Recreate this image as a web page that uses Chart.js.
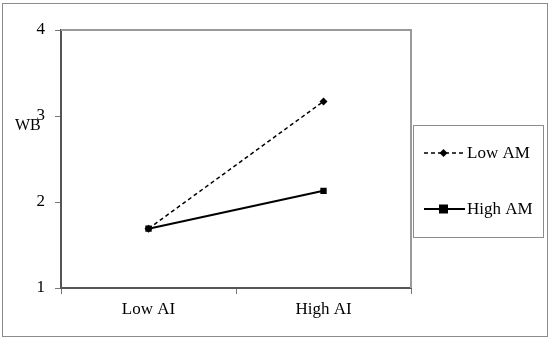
<!DOCTYPE html>
<html>
<head>
<meta charset="utf-8">
<script src="https://cdn.jsdelivr.net/npm/chart.js@4/dist/chart.umd.min.js"></script>
<style>
  html, body { margin: 0; padding: 0; background: #fff; }
  #wrap { width: 550px; height: 341px; }
</style>
</head>
<body>
<div id="wrap"><canvas id="chart" width="550" height="341"></canvas></div>
<script>
const categories = ['Low AI', 'High AI'];
const lowAM = [1.69, 3.17];
const highAM = [1.69, 2.13];
const seriesNames = ['Low AM', 'High AM'];
const yTicks = [1, 2, 3, 4];

const serif = "'Liberation Serif', 'Times New Roman', serif";

// frame, y title and legend box are drawn by hand
const decor = {
  id: 'decor',
  beforeDraw(chart) {
    const c = chart.ctx;
    c.save();
    c.fillStyle = '#fff';
    c.fillRect(0, 0, chart.width, chart.height);
    c.strokeStyle = '#8c8c8c';
    c.lineWidth = 1;
    c.strokeRect(2.5, 3.5, 545, 333);
    c.restore();
  },
  afterDraw(chart) {
    const c = chart.ctx;
    const a = chart.chartArea;
    c.save();
    // top and right frame
    c.strokeStyle = '#9a9a9a';
    c.lineWidth = 2;
    c.beginPath();
    c.moveTo(a.left, a.top);
    c.lineTo(a.right, a.top);
    c.lineTo(a.right, a.bottom);
    c.stroke();

    // y title
    c.fillStyle = '#000';
    c.font = '16px ' + serif;
    c.textBaseline = 'alphabetic';
    c.textAlign = 'left';
    c.fillText('WB', 15, 130);

    // legend box
    c.strokeStyle = '#8c8c8c';
    c.lineWidth = 1;
    c.strokeRect(413.5, 125.5, 130, 112);
    const rows = [153, 209];
    chart.data.datasets.forEach((ds, i) => {
      const y = rows[i];
      c.strokeStyle = ds.borderColor;
      c.lineWidth = ds.borderWidth;
      c.setLineDash(ds.borderDash || []);
      c.beginPath();
      c.moveTo(424, y);
      c.lineTo(465, y);
      c.stroke();
      c.setLineDash([]);
      c.fillStyle = '#000';
      if (ds.pointStyle === 'rect') {
        c.fillRect(439, y - 4.5, 9, 9);
      } else {
        c.beginPath();
        c.moveTo(443.5, y - 4);
        c.lineTo(447.5, y);
        c.lineTo(443.5, y + 4);
        c.lineTo(439.5, y);
        c.closePath();
        c.fill();
      }
      c.font = '17px ' + serif;
      c.textBaseline = 'middle';
      c.fillText(ds.label, 467, y + 1);
    });
    c.restore();
  }
};

new Chart(document.getElementById('chart'), {
  type: 'line',
  data: {
    labels: categories,
    datasets: [
      {
        label: seriesNames[0],
        data: lowAM,
        borderColor: '#000',
        backgroundColor: '#000',
        borderWidth: 1.5,
        borderDash: [4, 3],
        pointStyle: 'rectRot',
        pointRadius: 4,
        pointBorderWidth: 0,
        order: 2
      },
      {
        label: seriesNames[1],
        data: highAM,
        borderColor: '#000',
        backgroundColor: '#000',
        borderWidth: 2,
        pointStyle: 'rect',
        pointRadius: 4.5,
        pointBorderWidth: 0,
        order: 1
      }
    ]
  },
  options: {
    responsive: false,
    animation: false,
    layout: { padding: { left: 0, top: 30, right: 139, bottom: 0 } },
    plugins: {
      legend: { display: false },
      tooltip: { enabled: false }
    },
    scales: {
      x: {
        offset: true,
        afterFit(scale) { scale.height = 53; },
        grid: {
          offset: true,
          drawOnChartArea: false,
          drawTicks: true,
          tickLength: 6,
          color: '#777'
        },
        border: { color: '#555', width: 2 },
        ticks: {
          color: '#000',
          font: { family: serif, size: 17 },
          padding: 5
        }
      },
      y: {
        min: 1,
        max: 4,
        afterFit(scale) { scale.width = 61; },
        afterBuildTicks(scale) { scale.ticks = yTicks.map(v => ({ value: v })); },
        grid: {
          drawOnChartArea: false,
          drawTicks: true,
          tickLength: 6,
          color: '#777'
        },
        border: { color: '#555', width: 2 },
        ticks: {
          color: '#000',
          font: { family: serif, size: 17 },
          padding: 10
        }
      }
    }
  },
  plugins: [decor]
});
</script>
</body>
</html>
